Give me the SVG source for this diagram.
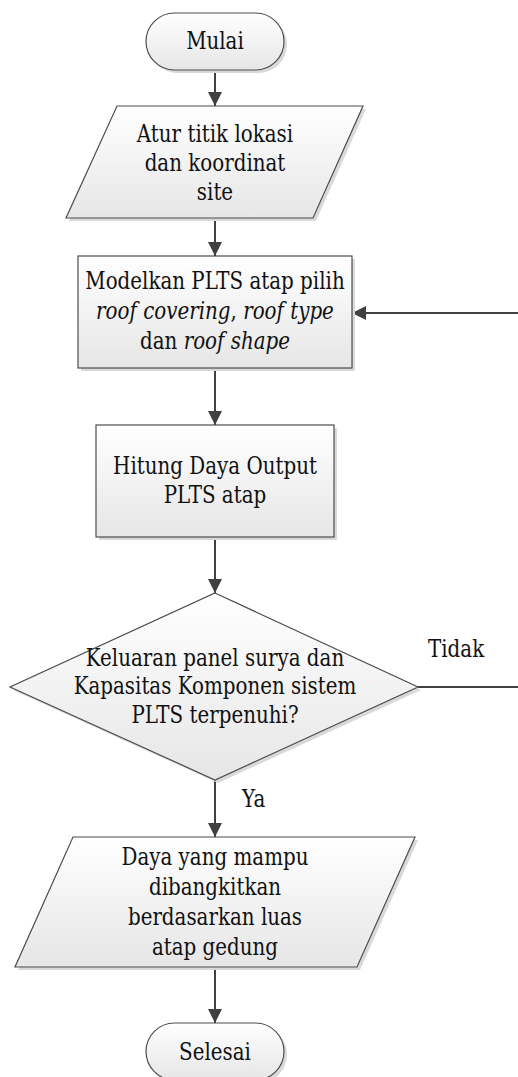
<svg xmlns="http://www.w3.org/2000/svg" width="518" height="1077" viewBox="0 0 518 1077">
<defs>
<linearGradient id="g" x1="0" y1="0" x2="0" y2="1">
<stop offset="0" stop-color="#ffffff"/>
<stop offset="1" stop-color="#e6e6e6"/>
</linearGradient>
<marker id="arr" markerUnits="userSpaceOnUse" markerWidth="16" markerHeight="14" refX="14" refY="7" orient="auto">
<path d="M0,0 L14,7 L0,14 Z" fill="#404040"/>
</marker>
<style>
.s{fill:url(#g);stroke:#4d4d4d;stroke-width:1.2}
.sh{fill:#d9d9d9;stroke:none}
text{font-family:'DejaVu Serif',serif;font-size:23.5px;fill:#111}
.t{text-anchor:middle}
.c{fill:none;stroke:#404040;stroke-width:2}
.i{font-style:italic}
</style>
</defs>
<g id="connectors">
<line class="c" x1="215" y1="70" x2="215" y2="106" marker-end="url(#arr)"/>
<line class="c" x1="215" y1="219" x2="215" y2="256" marker-end="url(#arr)"/>
<line class="c" x1="215" y1="368" x2="215" y2="425" marker-end="url(#arr)"/>
<line class="c" x1="215" y1="537" x2="215" y2="593" marker-end="url(#arr)"/>
<line class="c" x1="215" y1="780" x2="215" y2="837" marker-end="url(#arr)"/>
<line class="c" x1="215" y1="967" x2="215" y2="1023" marker-end="url(#arr)"/>
<polyline class="c" points="418,687 522,687 522,313 352,313" marker-end="url(#arr)"/>
<g transform="matrix(0.845 0 0 1 66.34 0)"><text x="428" y="657">Tidak</text></g>
<g transform="matrix(0.845 0 0 1 37.51 0)"><text x="242" y="807">Ya</text></g>
</g>
<g id="mulai">
<rect class="sh" x="149" y="16" width="138" height="57" rx="28.5"/>
<rect class="s" x="146" y="13" width="138" height="57" rx="28.5"/>
<g transform="matrix(0.845 0 0 1 33.325 0)"><text class="t" x="215" y="49">Mulai</text></g>
</g>
<g id="atur">
<polygon class="sh" points="120,109 366,109 316,221 69,221"/>
<polygon class="s" points="117,106 363,106 313,218 66,218"/>
<g transform="matrix(0.845 0 0 1 33.325 0)">
<text class="t" x="215" y="142">Atur titik lokasi</text>
<text class="t" x="215" y="171">dan koordinat</text>
<text class="t" x="215" y="200">site</text>
</g>
</g>
<g id="modelkan">
<rect class="sh" x="81" y="259" width="274" height="112"/>
<rect class="s" x="78" y="256" width="274" height="112"/>
<g transform="matrix(0.845 0 0 1 33.325 0)">
<text class="t" x="215" y="289">Modelkan PLTS atap pilih</text>
<text class="t" x="215" y="319"><tspan class="i">roof covering</tspan>, <tspan class="i">roof type</tspan></text>
<text class="t" x="215" y="349">dan <tspan class="i">roof shape</tspan></text>
</g>
</g>
<g id="hitung">
<rect class="sh" x="99" y="428" width="238" height="112"/>
<rect class="s" x="96" y="425" width="238" height="112"/>
<g transform="matrix(0.845 0 0 1 33.325 0)">
<text class="t" x="215" y="474">Hitung Daya Output</text>
<text class="t" x="215" y="503">PLTS atap</text>
</g>
</g>
<g id="keputusan">
<polygon class="sh" points="218,596 421,690 218,783 13,690"/>
<polygon class="s" points="215,593 418,687 215,780 10,687"/>
<g transform="matrix(0.845 0 0 1 33.325 0)">
<text class="t" x="215" y="666">Keluaran panel surya dan</text>
<text class="t" x="215" y="694">Kapasitas Komponen sistem</text>
<text class="t" x="215" y="723">PLTS terpenuhi?</text>
</g>
</g>
<g id="daya">
<polygon class="sh" points="76,840 418,840 360,970 18,970"/>
<polygon class="s" points="73,837 415,837 357,967 15,967"/>
<g transform="matrix(0.845 0 0 1 33.325 0)">
<text class="t" x="215" y="865">Daya yang mampu</text>
<text class="t" x="215" y="895">dibangkitkan</text>
<text class="t" x="215" y="925">berdasarkan luas</text>
<text class="t" x="215" y="955">atap gedung</text>
</g>
</g>
<g id="selesai">
<rect class="sh" x="149" y="1026" width="138" height="57" rx="28.5"/>
<rect class="s" x="146" y="1023" width="138" height="57" rx="28.5"/>
<g transform="matrix(0.845 0 0 1 33.325 0)"><text class="t" x="215" y="1060">Selesai</text></g>
</g>
</svg>
